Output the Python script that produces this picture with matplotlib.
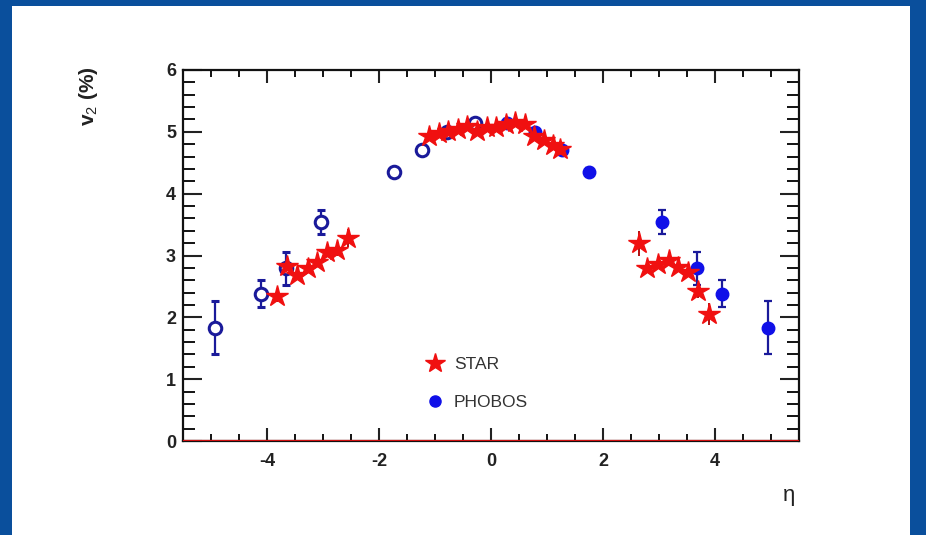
import matplotlib
matplotlib.use("Agg")
import matplotlib.pyplot as plt
from matplotlib.patches import Rectangle
from matplotlib.lines import Line2D
from matplotlib.ticker import MultipleLocator

plt.rcParams['font.family'] = ['Liberation Sans', 'DejaVu Sans']
plt.rcParams['mathtext.fontset'] = 'custom'
plt.rcParams['mathtext.rm'] = 'Liberation Sans'
plt.rcParams['mathtext.it'] = 'Liberation Sans'
plt.rcParams['axes.unicode_minus'] = False

# STAR (red stars)
star_eta = [-3.83, -3.65, -3.46, -3.27, -3.11, -2.93, -2.75, -2.56,
            -1.10, -0.93, -0.76, -0.59, -0.42, -0.25, -0.08, 0.09, 0.26, 0.43, 0.60, 0.77, 0.94, 1.11, 1.24,
            2.64, 2.79, 2.99, 3.17, 3.34, 3.51, 3.69, 3.89]
star_v2 = [2.34, 2.83, 2.69, 2.79, 2.89, 3.06, 3.09, 3.28,
           4.93, 4.98, 5.02, 5.05, 5.10, 5.02, 5.08, 5.08, 5.12, 5.16, 5.13, 4.93, 4.86, 4.78, 4.72,
           3.20, 2.79, 2.87, 2.93, 2.82, 2.74, 2.42, 2.05]
star_err = [0.10, 0.08, 0.06, 0.06, 0.06, 0.08, 0.10, 0.15,
            0.03, 0.03, 0.03, 0.03, 0.03, 0.03, 0.03, 0.03, 0.03, 0.03, 0.03, 0.03, 0.03, 0.03, 0.03,
            0.20, 0.06, 0.06, 0.06, 0.06, 0.06, 0.10, 0.18]

# PHOBOS (filled: positive eta, open: reflected negative eta)
phobos_eta_pos = [0.28, 0.78, 1.27, 1.75, 3.06, 3.67, 4.12, 4.95]
phobos_v2_pos = [5.15, 5.00, 4.70, 4.35, 3.54, 2.79, 2.38, 1.83]
phobos_err_pos = [0.05, 0.05, 0.05, 0.06, 0.20, 0.27, 0.22, 0.43]
phobos_eta_neg = [-0.28, -0.78, -1.23, -1.73, -3.04, -3.66, -4.10, -4.93]
phobos_v2_neg = [5.15, 5.00, 4.70, 4.35, 3.54, 2.79, 2.38, 1.83]
phobos_err_neg = [0.05, 0.05, 0.05, 0.06, 0.20, 0.27, 0.22, 0.43]

W, H = 926, 535
fig = plt.figure(figsize=(W / 100, H / 100), dpi=100)
fig.patch.set_facecolor('#0a4f9c')
# white slide panel
fig.patches.append(Rectangle((12 / W, 0), (910 - 12) / W, (535 - 6) / H,
                             transform=fig.transFigure, facecolor='white',
                             edgecolor='none', zorder=-10))

ax = fig.add_axes([183 / W, 1 - 441 / H, (799 - 183) / W, (441 - 70) / H])
ax.set_zorder(5)
ax.set_facecolor('white')

ax.errorbar(phobos_eta_neg, phobos_v2_neg, yerr=phobos_err_neg, fmt='o',
            ms=9, mfc='white', mec='#1a1a9a', mew=2.2, ecolor='#1a1a9a',
            elinewidth=1.6, capsize=3, capthick=1.6, zorder=3)
ax.errorbar(phobos_eta_pos, phobos_v2_pos, yerr=phobos_err_pos, fmt='o',
            ms=9, mfc='#1010e8', mec='#1010e8', ecolor='#1a1a9a',
            elinewidth=1.6, capsize=3, capthick=1.6, zorder=3)
ax.errorbar(star_eta, star_v2, yerr=star_err, fmt='*', ms=16,
            mfc='#f01010', mec='#f01010', ecolor='#b01010', elinewidth=1.4,
            capsize=0, zorder=4)

ax.axhline(0, color='#d01010', lw=1.6, zorder=5)

ax.set_xlim(-5.5, 5.5)
ax.set_ylim(0, 6)
ax.xaxis.set_major_locator(MultipleLocator(2))
ax.xaxis.set_minor_locator(MultipleLocator(0.5))
ax.yaxis.set_major_locator(MultipleLocator(1))
ax.yaxis.set_minor_locator(MultipleLocator(0.2))

for s in ax.spines.values():
    s.set_linewidth(1.6)
    s.set_color('#111111')

ax.tick_params(axis='x', which='major', direction='in', length=9.5, width=1.5,
               top=True, bottom=True, labelsize=13, pad=9, colors='#222222')
ax.tick_params(axis='x', which='minor', direction='in', length=5, width=1.3,
               top=True, bottom=True)
ax.tick_params(axis='y', which='major', direction='in', length=14, width=1.5,
               left=True, right=True, labelsize=13, pad=5, colors='#222222')
ax.tick_params(axis='y', which='minor', direction='in', length=8.5, width=1.3,
               left=True, right=True)
for lab in ax.get_xticklabels() + ax.get_yticklabels():
    lab.set_fontweight('bold')

fig.text(88 / W, 1 - 66 / H, r'v$_2$ (%)', rotation=90, ha='center', va='top',
         fontsize=15, color='#222222', fontweight='bold')
fig.text(789 / W, 1 - 495 / H, 'η', ha='center', va='center',
         fontsize=16, color='#222222')

handles = [Line2D([], [], ls='none', marker='*', ms=15, color='#f01010'),
           Line2D([], [], ls='none', marker='o', ms=8, color='#1010e8')]
ax.legend(handles, ['STAR', 'PHOBOS'], loc='upper left',
          bbox_to_anchor=((406 - 183) / (799 - 183), (441 - 341) / (441 - 70)),
          frameon=False, fontsize=12.5, handletextpad=0.35, labelspacing=1.35,
          handlelength=1.5, labelcolor='#333333')

fig.savefig('out.png', dpi=100, facecolor=fig.get_facecolor())
